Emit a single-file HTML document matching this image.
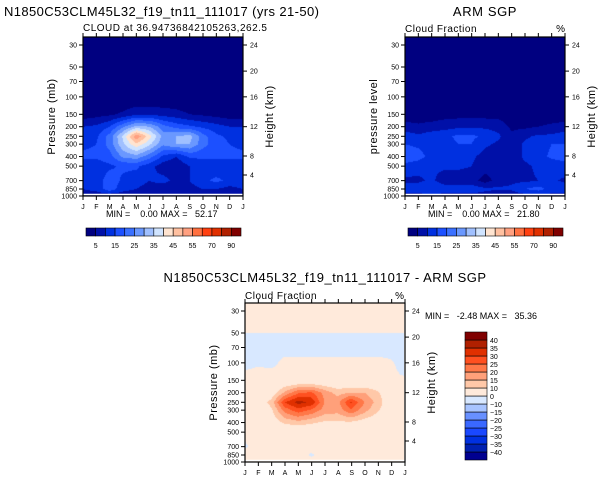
<!DOCTYPE html>
<html><head><meta charset="utf-8">
<style>
html,body{margin:0;padding:0;background:#fff;}
#root{position:relative;width:601px;height:481px;overflow:hidden;font-family:"Liberation Sans",sans-serif;}
canvas{position:absolute;}
svg{position:absolute;left:0;top:0;}
text{white-space:pre;}
</style></head>
<body>
<div id="root">
<canvas id="c1" width="160" height="159" style="left:83px;top:37px"></canvas>
<canvas id="c2" width="160" height="159" style="left:405px;top:37px"></canvas>
<canvas id="c3" width="159" height="159" style="left:245px;top:303px"></canvas>
<svg id="ov" width="601" height="481"></svg>
</div>
<script>
const months = ["J","F","M","A","M","J","J","A","S","O","N","D","J"];
const pTicks = [30,50,70,100,150,200,250,300,400,500,700,850,1000];
const hTicks = [24,20,16,12,8,4];
const hTickP = [30,55,100,200,395,614];

const modelLevels = [30,50,70,100,150,200,250,300,400,500,700,850,1000];
const modelVals = [
[0,0,0,0,0,0,0,0,0,0,0,0,0],
[0,0,0,0,0,0,0,0,0,0,0,0,0],
[0,0,0,0,0,0,0,0,0,0,0,0,0],
[0,0,0,0,0,0,0,0,0,0,0,0,0],
[2,3,4,6,9,9,8,7,5,4,3,2,2],
[10,11,15,24,32,30,22,18,16,14,12,10,10],
[12,14,22,36,54,42,28,30,32,22,16,14,12],
[14,15,22,34,44,36,26,30,30,22,17,15,14],
[16,16,18,26,28,22,14,10,16,16,16,16,16],
[12,12,14,16,16,12,7,6,10,12,12,12,12],
[14,12,18,14,12,10,12,8,10,14,16,14,14],
[10,12,18,12,10,8,6,6,8,10,10,8,10],
[6,6,6,6,6,6,6,6,6,6,6,6,6]];

const armLevels = [30,50,70,100,150,200,250,300,400,500,700,850,1000];
const armVals = [
[0,0,0,0,0,0,0,0,0,0,0,0,0],
[0,0,0,0,0,0,0,0,0,0,0,0,0],
[0,0,0,0,0,0,0,0,0,0,0,0,0],
[0,0,0,0,0,0,0,0,0,0,0,0,0],
[2,2,2,3,3,3,3,3,2,2,2,2,2],
[7,6,7,8,9,9,9,8,4,4,5,6,7],
[13,11,13,14,16,16,14,11,6,9,11,11,13],
[15,14,13,13,15,15,11,9,7,11,13,15,15],
[19,17,13,13,13,11,8,7,7,11,13,16,17],
[13,12,11,11,11,10,7,7,7,9,11,12,13],
[9,9,11,7,7,7,3,7,9,9,10,11,9],
[13,13,15,13,13,13,11,11,11,15,17,13,13],
[8,8,8,8,8,8,8,4,6,8,8,8,8]];

const diffLevels = [30,48,52,70,100,130,150,200,250,300,400,500,700,850,1000];
const diffVals = [
[3,3,3,3,3,3,3,3,3,3,3,3,3],
[3,3,3,3,3,3,3,3,3,3,3,3,3],
[-3,-3,-3,-3,-3,-3,-3,-3,-3,-3,-3,-3,-3],
[-3,-3,-3,-3,-3,-3,-3,-3,-3,-3,-3,-3,-3],
[-2,-1,-2,2,2,2,2,2,2,2,2,1,-3],
[1,2,2,2,2,2,2,2,2,2,2,2,-1],
[3,3,3,3,3,3,3,3,3,3,3,3,3],
[3,3,6,16,24,26,18,13,15,15,11,5,3],
[3,6,12,30,37,34,20,18,31,20,13,5,3],
[3,5,9,22,28,24,18,17,24,17,11,5,3],
[3,3,6,11,13,11,9,9,9,7,5,3,3],
[2,2,3,3,3,3,3,1,3,3,3,2,2],
[-1,3,3,3,3,3,3,3,3,3,3,3,1],
[3,3,3,3,3,-1,3,3,3,3,3,3,3],
[3,3,3,3,3,3,3,3,3,3,3,3,3]];

const absBounds = [5,10,15,20,25,30,35,40,45,50,55,60,70,80,90];
const absLabels = [5,15,25,35,45,55,70,90];
const absColors = ['#000080','#0010a8','#0030e0','#1c50ff','#3a70ff','#6a98ff','#a0c0ff','#d0e4ff','#ffe4d0','#ffc0a0','#ffa080','#ff7040','#ff4010','#e03000','#b02000','#800000'];
const diffBounds = [-40,-35,-30,-25,-20,-15,-10,0,10,15,20,25,30,35,40];
const diffColors = ['#000090','#0020b0','#0030e0','#1a48ff','#3a68ff','#6890ff','#a8c4ff','#d8e8ff','#ffeadb','#ffc8a8','#ffa07a','#ff7848','#ff5020','#e03000','#b02000','#800000'];

const W=160, LOGR=Math.log(1000/30), SPAN=151;
function xS(m,x0){return x0+m*W/12;}
function yS(p,yb){return yb-Math.log(1000/p)/LOGR*SPAN;}
function pAt(y,yb){return 1000/Math.exp((yb-y)/SPAN*LOGR);}
function hex(c){return [parseInt(c.slice(1,3),16),parseInt(c.slice(3,5),16),parseInt(c.slice(5,7),16)];}

function drawField(id,x0,yb,levels,vals,bounds,colors){
  const cv=document.getElementById(id),ctx=cv.getContext('2d');
  const w=cv.width,h=cv.height,img=ctx.createImageData(w,h);
  const top=yb-159;
  const lv=levels.map(p=>Math.log(p));
  const rgb=colors.map(hex);
  for(let j=0;j<h;j++){
    let lp=Math.log(pAt(top+j+0.5,yb));
    let k=0; while(k<lv.length-2 && lp>lv[k+1]) k++;
    let t=(lp-lv[k])/(lv[k+1]-lv[k]); t=Math.max(0,Math.min(1,t));
    for(let i=0;i<w;i++){
      let m=(i+0.5)/w*12, a=Math.min(11,Math.floor(m)), s=m-a;
      let v=(1-t)*((1-s)*vals[k][a]+s*vals[k][a+1])+t*((1-s)*vals[k+1][a]+s*vals[k+1][a+1]);
      let ci=0; while(ci<bounds.length && v>=bounds[ci]) ci++;
      const c=rgb[ci],o=(j*w+i)*4;
      img.data[o]=c[0];img.data[o+1]=c[1];img.data[o+2]=c[2];img.data[o+3]=255;
    }
  }
  ctx.putImageData(img,0,0);
}
drawField('c1',83,196,modelLevels,modelVals,absBounds,absColors);
drawField('c2',405,196,armLevels,armVals,absBounds,absColors);
drawField('c3',245,462,diffLevels,diffVals,diffBounds,diffColors);

const NS='http://www.w3.org/2000/svg', ov=document.getElementById('ov');
function el(tag,attrs,txt){const e=document.createElementNS(NS,tag);for(const k in attrs)e.setAttribute(k,attrs[k]);if(txt!==undefined)e.textContent=txt;ov.appendChild(e);return e;}
function txt(x,y,s,size,anchor,name,extra){const e=el('text',Object.assign({x:x,y:y,'font-size':size,'text-anchor':anchor||'start',fill:'#000','font-family':'Liberation Sans, sans-serif'},extra||{}),s);

return e;}

function axes(x0,yb,prefix,ylab){
  const top=yb-159,x1=x0+W;
  el('line',{x1:x0,y1:yb-1.5,x2:x1,y2:yb-1.5,stroke:'#fff','stroke-width':1.5});
  const r=el('rect',{x:x0,y:top,width:W,height:159,fill:'none',stroke:'#000','stroke-width':1.2});
  
  
  pTicks.forEach(p=>{const y=yS(p,yb);el('line',{x1:x0-4,y1:y,x2:x0,y2:y,stroke:'#000'});
    txt(x0-6,y+2.5,String(p),7,'end',prefix+'-pressure-tick');});
  hTicks.forEach((hh,i)=>{const y=yS(hTickP[i],yb);el('line',{x1:x1,y1:y,x2:x1+4,y2:y,stroke:'#000'});
    txt(x1+7,y+2.5,String(hh),7,'start',prefix+'-height-tick');});
  months.forEach((m,i)=>{const x=xS(i,x0);el('line',{x1:x,y1:yb,x2:x,y2:yb+4,stroke:'#000'});el('line',{x1:x,y1:top,x2:x,y2:top-4,stroke:'#000'});
    txt(x,yb+13,m,7,'middle',prefix+'-month-tick');});
  const yc=(top+yb)/2;
  txt(0,0,ylab,11,'middle',prefix+'-y-axis-title',{transform:'translate('+(x0-28)+','+yc+') rotate(-90)','letter-spacing':'0.5'});
  txt(0,0,'Height (km)',11,'middle',prefix+'-height-axis-title',{transform:'translate('+(x1+30)+','+yc+') rotate(-90)','letter-spacing':'0.5'});
}
axes(83,196,'model','Pressure (mb)');
axes(405,196,'arm','pressure level');
axes(245,462,'diff','Pressure (mb)');

txt(4,16,'N1850C53CLM45L32_f19_tn11_111017 (yrs 21-50)',13,'start','model-title',{'letter-spacing':'0.4'});
txt(83,31,'CLOUD at 36.94736842105263,262.5',10,'start','model-subtitle',{'letter-spacing':'0.5'});
txt(485,16,'ARM SGP',13,'middle','arm-title',{'letter-spacing':'0.6'});
txt(405,32,'Cloud Fraction',10,'start','arm-subtitle',{'letter-spacing':'0.5'});
txt(565,32,'%',10,'end','arm-units');
txt(325,282,'N1850C53CLM45L32_f19_tn11_111017 - ARM SGP',13,'middle','diff-title',{'letter-spacing':'0.5'});
txt(245,299,'Cloud Fraction',10,'start','diff-subtitle',{'letter-spacing':'0.5'});
txt(404,299,'%',10,'end','diff-units');
txt(106,217,'MIN =\u00a0\u00a0\u00a0\u00a00.00 MAX =\u00a0\u00a0\u00a052.17',9,'start','model-min-max');
txt(428,217,'MIN =\u00a0\u00a0\u00a0\u00a00.00 MAX =\u00a0\u00a0\u00a021.80',9,'start','arm-min-max');
txt(425,319,'MIN =\u00a0\u00a0\u00a0-2.48 MAX =\u00a0\u00a0\u00a035.36',9,'start','diff-min-max');

function hbar(x0,prefix){
  const bw=155/16;
  absColors.forEach((c,i)=>{const r=el('rect',{x:x0+i*bw,y:228,width:bw,height:8,fill:c,stroke:'#000','stroke-width':0.6});
    
    });
  absLabels.forEach(l=>{const k=absBounds.indexOf(l)+1;txt(x0+k*bw,248,String(l),7,'middle',prefix+'-colorbar-label');});
}
hbar(86,'model');
hbar(408,'arm');

(function(){
  const bh=8,y0=332,x=465;
  diffColors.forEach((c,i)=>{const r=el('rect',{x:x,y:y0+(15-i)*bh,width:22,height:bh,fill:c,stroke:'#000','stroke-width':0.6});
    
    });
  diffBounds.forEach((b,i)=>{const y=y0+(15-i)*bh;txt(490,y+3,b<0?'\u2212'+(-b):String(b),7,'start','diff-colorbar-label');});
})();
</script>
</body></html>
